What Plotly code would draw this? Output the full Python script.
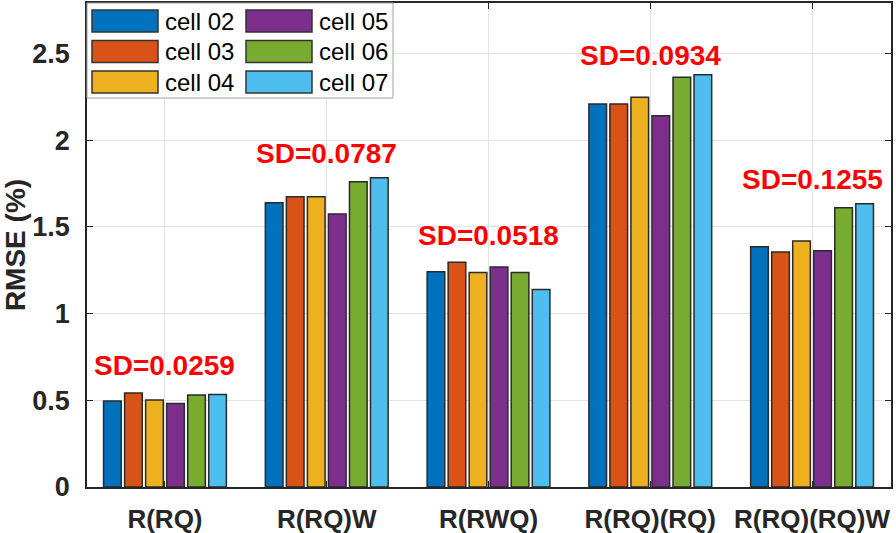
import plotly.graph_objects as go

categories = ["R(RQ)", "R(RQ)W", "R(RWQ)", "R(RQ)(RQ)", "R(RQ)(RQ)W"]
series_names = ["cell 02", "cell 03", "cell 04", "cell 05", "cell 06", "cell 07"]
cell02 = [0.496, 1.639, 1.241, 2.208, 1.385]
cell03 = [0.542, 1.673, 1.295, 2.208, 1.354]
cell04 = [0.502, 1.673, 1.237, 2.246, 1.418]
cell05 = [0.481, 1.574, 1.268, 2.140, 1.362]
cell06 = [0.531, 1.760, 1.237, 2.362, 1.610]
cell07 = [0.533, 1.783, 1.139, 2.377, 1.633]
sd_labels = ["SD=0.0259", "SD=0.0787", "SD=0.0518", "SD=0.0934", "SD=0.1255"]
sd_label_y = [0.70, 1.925, 1.447, 2.485, 1.77]
y_ticks = [0, 0.5, 1, 1.5, 2, 2.5]

series_values = [cell02, cell03, cell04, cell05, cell06, cell07]
colors = ["#0072BD", "#D95319", "#EDB120", "#7E2F8E", "#77AC30", "#4DBEEE"]

FONT = "Liberation Sans"
AX = "#262626"

fig = go.Figure()
for name, vals, col in zip(series_names, series_values, colors):
    fig.add_trace(go.Bar(
        x=list(range(len(categories))), y=vals, name=name,
        marker=dict(color=col, line=dict(color="#2a2a2a", width=1.5)),
        showlegend=False,
    ))

annotations = []
for i, (txt, yv) in enumerate(zip(sd_labels, sd_label_y)):
    annotations.append(dict(
        x=i, y=yv, xref="x", yref="y", text=f"<b>{txt}</b>", showarrow=False,
        font=dict(family=FONT, size=28, color="#ff0000"),
        xanchor="center", yanchor="middle",
    ))

# custom legend (2 columns, column-major like the reference)
shapes = [dict(type="rect", xref="paper", yref="paper", xsizemode="pixel", ysizemode="pixel",
               xanchor=0, yanchor=1, x0=0, x1=306, y0=0, y1=-95,
               line=dict(color="#a0a0a0", width=1), fillcolor="white", layer="above")]
for k, (name, col) in enumerate(zip(series_names, colors)):
    c, r = divmod(k, 3)
    x0 = 5 + c * 154
    ytop = -7 - r * 30.5
    shapes.append(dict(type="rect", xref="paper", yref="paper", xsizemode="pixel", ysizemode="pixel",
                       xanchor=0, yanchor=1, x0=x0, x1=x0 + 66, y0=ytop, y1=ytop - 22,
                       line=dict(color="#333333", width=1.5), fillcolor=col, layer="above"))
    annotations.append(dict(
        x=0, y=1, xref="paper", yref="paper", xshift=x0 + 71, yshift=ytop - 11,
        text=name, showarrow=False, xanchor="left", yanchor="middle",
        font=dict(family=FONT, size=24, color="#000000"),
    ))

fig.update_layout(
    width=896, height=533,
    margin=dict(l=87, r=5, t=3, b=46),
    paper_bgcolor="white", plot_bgcolor="white",
    barmode="group", bargap=0.22, bargroupgap=0.16,
    font=dict(family=FONT, color=AX),
    annotations=annotations, shapes=shapes,
    showlegend=False,
)
fig.update_xaxes(
    range=[-0.482, 4.488], tickmode="array",
    tickvals=list(range(len(categories))),
    ticktext=[f"<b>{c}</b>" for c in categories],
    tickfont=dict(family=FONT, size=26, color=AX),
    showgrid=True, gridcolor="#e3e3e3", gridwidth=1,
    showline=True, linecolor=AX, linewidth=1.5, mirror="ticks",
    ticks="inside", ticklen=6, tickcolor=AX, ticklabelstandoff=8,
    zeroline=False, automargin=False,
)
fig.update_yaxes(
    range=[0, 2.79], tickmode="array", tickvals=y_ticks,
    ticktext=[f"<b>{v:g}</b>" for v in y_ticks],
    tickfont=dict(family=FONT, size=27, color=AX),
    showgrid=True, gridcolor="#e3e3e3", gridwidth=1,
    showline=True, linecolor=AX, linewidth=1.5, mirror="ticks",
    ticks="inside", ticklen=6, tickcolor=AX, ticklabelstandoff=10,
    zeroline=False, automargin=False,
    title=dict(text="<b>RMSE (%)</b>", font=dict(family=FONT, size=28, color=AX), standoff=8),
)

fig.write_html("out.html", config={"displayModeBar": False},
               post_script="document.body.style.margin='0';document.body.style.overflow='hidden';")
